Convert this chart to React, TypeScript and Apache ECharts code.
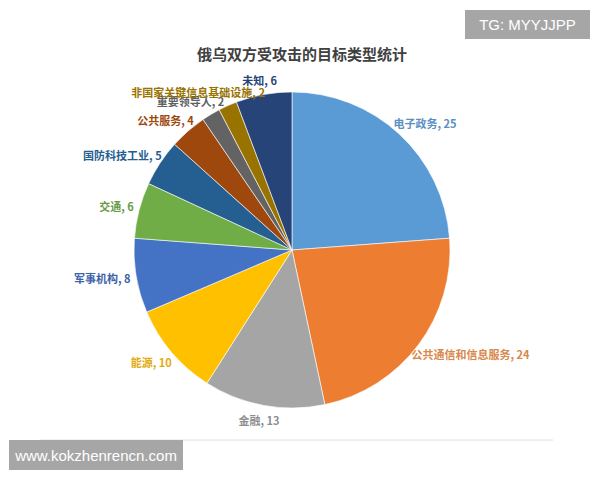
import React, { useEffect, useRef } from "react";
import * as echarts from "echarts";

const categories = [
  "电子政务",
  "公共通信和信息服务",
  "金融",
  "能源",
  "军事机构",
  "交通",
  "国防科技工业",
  "公共服务",
  "重要领导人",
  "非国家关键信息基础设施",
  "未知",
];
const values = [25, 24, 13, 10, 8, 6, 5, 4, 2, 2, 6];
const sliceColors = [
  "#5B9BD5", "#ED7D31", "#A5A5A5", "#FFC000", "#4472C4", "#70AD47",
  "#255E91", "#9E480E", "#636363", "#997300", "#264478",
];
const labelColors = [
  "#5a8fc2", "#d9874a", "#8f8f8f", "#e3aa10", "#3d63a8", "#6a9a48",
  "#255E91", "#9E480E", "#5f5f5f", "#997300", "#264478",
];
const titleText = "俄乌双方受攻击的目标类型统计";

const CX = 292;
const CY = 250;
const R = 158;

export default function App() {
  const ref = useRef<HTMLDivElement>(null);
  useEffect(() => {
    if (!ref.current) return;
    const chart = echarts.init(ref.current, undefined, { renderer: "svg" });
    const total = values.reduce((a, b) => a + b, 0);
    const midAngles: number[] = [];
    let acc = 0;
    values.forEach((v) => {
      midAngles.push(((acc + v / 2) / total) * Math.PI * 2);
      acc += v;
    });
    const data = categories.map((name, i) => ({
      name,
      value: values[i],
      itemStyle: { color: sliceColors[i] },
      label: { color: labelColors[i] },
    }));
    chart.setOption({
      animation: false,
      backgroundColor: "#ffffff",
      title: {
        text: titleText,
        left: 297,
        top: 41,
        textAlign: "center",
        textStyle: {
          fontFamily: "Noto Sans CJK SC",
          fontSize: 15,
          fontWeight: "bold",
          color: "#404040",
        },
      },
      series: [
        {
          type: "pie",
          center: [CX, CY],
          radius: R,
          startAngle: 90,
          clockwise: true,
          data,
          itemStyle: { borderColor: "#ffffff", borderWidth: 0.6 },
          label: {
            show: true,
            position: "outside",
            formatter: "{b}, {c}",
            fontFamily: "Noto Sans CJK SC",
            fontSize: 11,
            fontWeight: "bold",
            lineHeight: 12,
          },
          labelLine: { show: false, length: 6, length2: 0 },
          labelLayout: (params: any) => {
            const a = midAngles[params.dataIndex];
            const dx = Math.sin(a);
            const dy = -Math.cos(a);
            const w = params.labelRect.width;
            const h = params.labelRect.height;
            const g = 6;
            return {
              x: CX + dx * (R + g) + dx * (w / 2),
              y: CY + dy * (R + g) + dy * (h / 2) * 1.5,
              align: "center",
              verticalAlign: "middle",
            };
          },
        },
      ],
      graphic: [
        {
          type: "line",
          shape: { x1: 40, y1: 440, x2: 553, y2: 440 },
          style: { stroke: "#dedede", lineWidth: 1 },
        },
        {
          type: "group",
          left: 465,
          top: 10,
          children: [
            { type: "rect", shape: { x: 0, y: 0, width: 125, height: 29 }, style: { fill: "#a6a6a6" } },
            {
              type: "text",
              x: 62.5,
              y: 14.5,
              style: {
                text: "TG: MYYJJPP",
                fill: "#ffffff",
                fontSize: 15,
                fontFamily: "Liberation Sans",
                align: "center",
                verticalAlign: "middle",
              },
            },
          ],
        },
        {
          type: "group",
          left: 9,
          top: 440,
          children: [
            { type: "rect", shape: { x: 0, y: 0, width: 174, height: 30 }, style: { fill: "#a6a6a6" } },
            {
              type: "text",
              x: 87,
              y: 15,
              style: {
                text: "www.kokzhenrencn.com",
                fill: "#ffffff",
                fontSize: 15,
                fontFamily: "Liberation Sans",
                align: "center",
                verticalAlign: "middle",
              },
            },
          ],
        },
      ],
    });
    return () => chart.dispose();
  }, []);
  return <div ref={ref} style={{ position: "fixed", left: 0, top: 0, width: 600, height: 480 }} />;
}
